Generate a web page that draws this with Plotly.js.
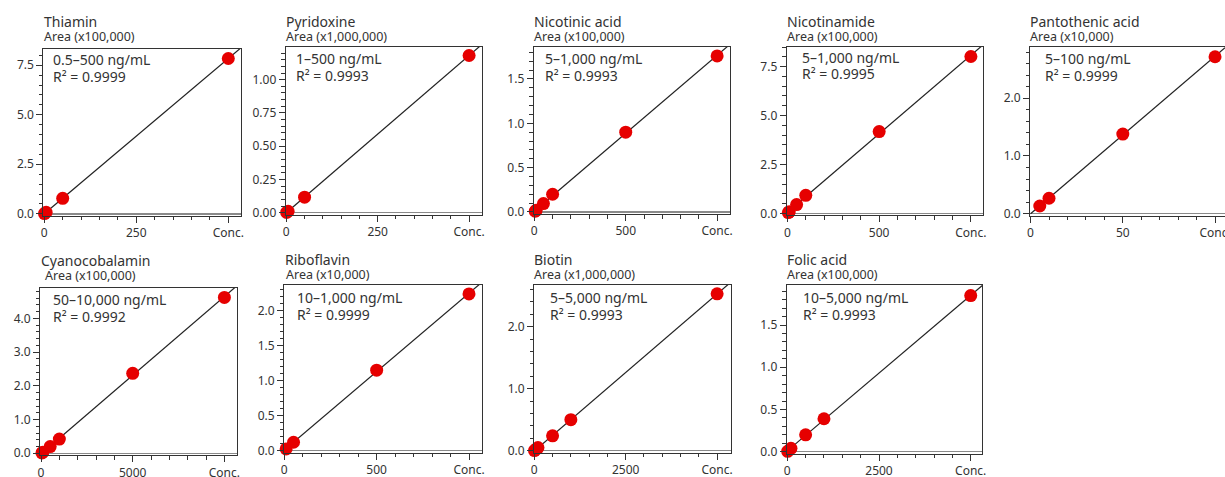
<!DOCTYPE html>
<html>
<head>
<meta charset="utf-8">
<script src="https://cdn.plot.ly/plotly-3.0.1.min.js"></script>
<style>html,body{margin:0;padding:0;background:#fff;}#chart{width:1225px;height:477px;}</style>
</head>
<body>
<div id="chart"></div>
<script>
// ---- Data ----
const compounds = ['Thiamin','Pyridoxine','Nicotinic acid','Nicotinamide','Pantothenic acid','Cyanocobalamin','Riboflavin','Biotin','Folic acid'];
const areaUnits = ['Area (x100,000)','Area (x1,000,000)','Area (x100,000)','Area (x100,000)','Area (x10,000)','Area (x100,000)','Area (x10,000)','Area (x1,000,000)','Area (x100,000)'];
const calRanges = ['0.5–500 ng/mL','1–500 ng/mL','5–1,000 ng/mL','5–1,000 ng/mL','5–100 ng/mL','50–10,000 ng/mL','10–1,000 ng/mL','5–5,000 ng/mL','10–5,000 ng/mL'];
const r2Values = ['0.9999','0.9993','0.9993','0.9995','0.9999','0.9992','0.9999','0.9993','0.9993'];

const thiaminConc = [0.5, 5, 50, 500];
const thiaminArea = [0.01, 0.08, 0.78, 7.84];
const pyridoxineConc = [1, 5, 50, 500];
const pyridoxineArea = [0.002, 0.011, 0.117, 1.182];
const nicotinicConc = [5, 10, 50, 100, 500, 1000];
const nicotinicArea = [0.008, 0.018, 0.095, 0.2, 0.9, 1.76];
const nicotinamideConc = [5, 10, 50, 100, 500, 1000];
const nicotinamideArea = [0.04, 0.08, 0.45, 0.92, 4.18, 8.02];
const pantothenicConc = [5, 10, 50, 100];
const pantothenicArea = [0.133, 0.267, 1.38, 2.72];
const cyanoConc = [50, 100, 500, 1000, 5000, 10000];
const cyanoArea = [0.01, 0.03, 0.2, 0.42, 2.37, 4.62];
const riboflavinConc = [10, 50, 500, 1000];
const riboflavinArea = [0.025, 0.12, 1.15, 2.24];
const biotinConc = [5, 50, 100, 500, 1000, 5000];
const biotinArea = [0.003, 0.025, 0.05, 0.24, 0.5, 2.53];
const folicConc = [10, 100, 500, 1000, 5000];
const folicArea = [0.004, 0.04, 0.2, 0.39, 1.85];

// x tick labels: 0, middle, "Conc." at the top calibration level
const xMidTicks = [250, 250, 500, 500, 50, 5000, 500, 2500, 2500];
const xTopTicks = [500, 500, 1000, 1000, 100, 10000, 1000, 5000, 5000];

const concSets = [thiaminConc, pyridoxineConc, nicotinicConc, nicotinamideConc, pantothenicConc, cyanoConc, riboflavinConc, biotinConc, folicConc];
const areaSets = [thiaminArea, pyridoxineArea, nicotinicArea, nicotinamideArea, pantothenicArea, cyanoArea, riboflavinArea, biotinArea, folicArea];

// ---- Layout geometry (pixels) ----
const W = 1225, H = 477;
const frames = [ // left, top, right, bottom
  [43.3, 49, 240.7, 215.8], [285.7, 46.7, 481.7, 214.7], [533.7, 46.7, 730.3, 214], [786.7, 46.7, 983, 215.3], [1030, 46.7, 1225, 215.7],
  [40, 287.7, 236.7, 455.3], [284, 285, 482.3, 452.7], [534, 285, 731, 452.7], [786.7, 285, 982.3, 453.7]
];
const xRanges = [[-2.7, 533.7], [-1.6, 534.5], [-3.3, 1072], [-4, 1066], [-0.3, 105.4], [-55, 10671], [-1.6, 1072], [-8, 5380], [-16, 5316]];
const yRanges = [[-0.1, 8.32], [-0.015, 1.248], [-0.023, 1.864], [-0.1, 8.52], [-0.035, 2.894], [-0.06, 4.907], [-0.029, 2.367], [-0.032, 2.673], [-0.024, 1.975]];
const yDticks = [2.5, 0.25, 0.5, 2.5, 1, 1, 0.5, 1, 0.5];
const yMinor = [0.5, 0.05, 0.1, 0.5, 0.2, 0.2, 0.1, 0.2, 0.1];
const yFormats = ['.1f', '.2f', '.1f', '.1f', '.1f', '.1f', '.1f', '.1f', '.1f'];
const titlePos = [[43, 27, 43, 40.7], [285, 26.7, 285, 40.7], [532.7, 26.7, 532.7, 40.7], [785.7, 26.7, 785.7, 40.7], [1029.3, 26.7, 1029.3, 40.7],
  [40, 265.7, 44, 280], [284.3, 265, 285, 279.3], [532.7, 265, 532.7, 279.3], [785.7, 265, 785.7, 279.3]];
const boxPos = [[51.7, 65, 81.7], [295, 64, 81], [544.3, 64, 81], [801, 62.5, 79], [1044, 64, 81],
  [51.7, 305, 321.7], [295.7, 302.3, 320], [549, 302.3, 320], [801.7, 302.3, 320]];

const FONT = 'Noto Sans, Open Sans, sans-serif';
const TXT = '#333333';
const AX = '#333333';

function px(xp) { return xp / W; }
function py(yp) { return 1 - yp / H; }

function linFit(xs, ys) {
  const n = xs.length;
  let sx = 0, sy = 0, sxx = 0, sxy = 0;
  for (let i = 0; i < n; i++) { sx += xs[i]; sy += ys[i]; sxx += xs[i] * xs[i]; sxy += xs[i] * ys[i]; }
  const b = (n * sxy - sx * sy) / (n * sxx - sx * sx);
  const a = (sy - b * sx) / n;
  return [a, b];
}

const traces = [];
const layout = {
  width: W, height: H,
  margin: {l: 0, r: 0, t: 0, b: 0},
  paper_bgcolor: '#ffffff', plot_bgcolor: '#ffffff',
  showlegend: false,
  font: {family: FONT, color: TXT, size: 12},
  annotations: []
};

function annot(text, xl, base, size) {
  layout.annotations.push({
    text: text, xref: 'paper', yref: 'paper',
    x: px(xl), y: py(base - 0.36 * size),
    xanchor: 'left', yanchor: 'middle', showarrow: false,
    borderpad: 0,
    font: {family: FONT, size: size, color: TXT}
  });
}

for (let i = 0; i < 9; i++) {
  const s = i === 0 ? '' : String(i + 1);
  const xa = 'x' + s, ya = 'y' + s;
  const f = frames[i];
  const fit = linFit(concSets[i], areaSets[i]);
  const x0 = 0, x1 = xRanges[i][1];
  traces.push({
    x: [x0, x1], y: [fit[0] + fit[1] * x0, fit[0] + fit[1] * x1],
    xaxis: xa, yaxis: ya, mode: 'lines', type: 'scatter',
    line: {color: '#222222', width: 1.2}, hoverinfo: 'skip'
  });
  traces.push({
    x: concSets[i], y: areaSets[i], xaxis: xa, yaxis: ya,
    mode: 'markers', type: 'scatter',
    marker: {color: '#e60000', size: 13, line: {width: 0}},
    cliponaxis: false
  });
  layout['xaxis' + s] = {
    domain: [px(f[0]), px(f[2])], anchor: ya, range: xRanges[i],
    showline: true, mirror: true, linecolor: AX, linewidth: 1,
    zeroline: false, showgrid: false,
    ticks: 'outside', ticklen: 6, tickwidth: 1, tickcolor: AX,
    tickmode: 'array', tickvals: [0, xMidTicks[i], xTopTicks[i]],
    ticktext: ['0', String(xMidTicks[i]), 'Conc.'],
    ticklabeloverflow: 'allow',
    tickfont: {family: FONT, size: 12, color: TXT},
    minor: {tick0: 0, dtick: xTopTicks[i] / 10, ticklen: 3.5, tickwidth: 1, tickcolor: AX, showgrid: false},
    fixedrange: true
  };
  layout['yaxis' + s] = {
    domain: [py(f[3]), py(f[1])], anchor: xa, range: yRanges[i],
    showline: true, mirror: i === 4 ? false : true, linecolor: AX, linewidth: 1,
    zeroline: true, zerolinecolor: '#8a8a8a', zerolinewidth: 1.5,
    showgrid: false,
    ticks: 'outside', ticklen: 6, tickwidth: 1, tickcolor: AX,
    tickmode: 'linear', tick0: 0, dtick: yDticks[i], tickformat: yFormats[i],
    tickfont: {family: FONT, size: 12, color: TXT},
    minor: {tick0: 0, dtick: yMinor[i], ticklen: 3.5, tickwidth: 1, tickcolor: AX, showgrid: false},
    fixedrange: true
  };
  const tp = titlePos[i];
  annot(compounds[i], tp[0], tp[1], 14);
  annot(areaUnits[i], tp[2], tp[3], 12.5);
  const bp = boxPos[i];
  annot(calRanges[i], bp[0], bp[1], 14);
  annot('R² = ' + r2Values[i], bp[0], bp[2], 14);
}

Plotly.newPlot('chart', traces, layout, {staticPlot: true, displayModeBar: false});
</script>
</body>
</html>
